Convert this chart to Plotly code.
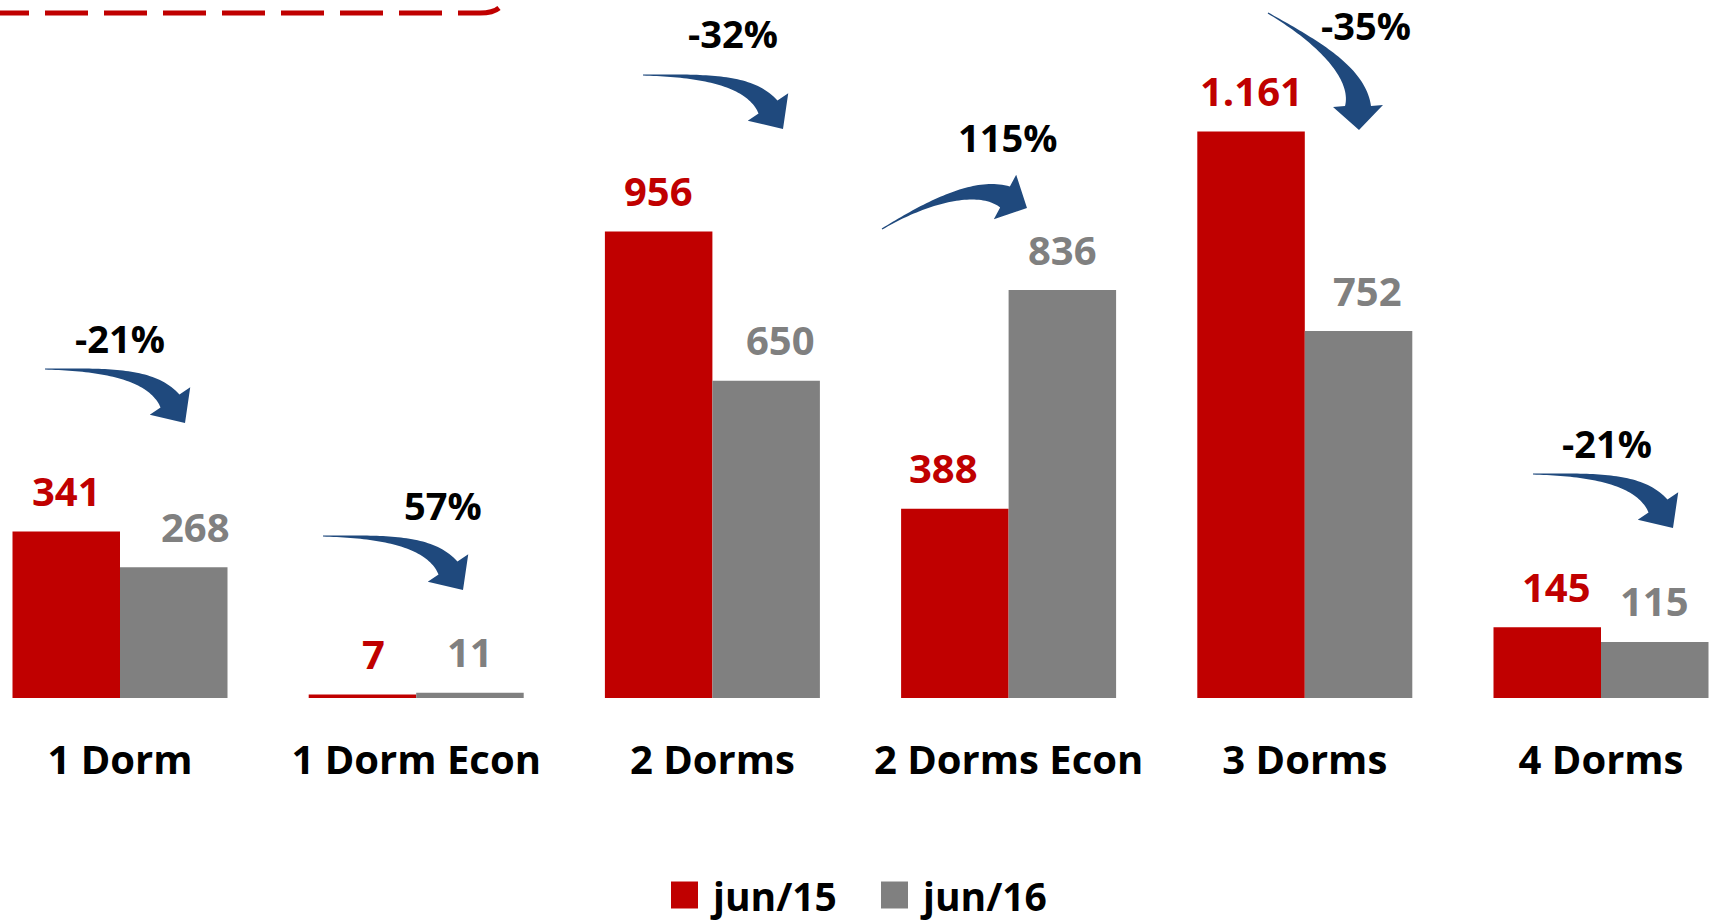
import numpy as np
import plotly.graph_objects as go

# ---------------- data ----------------
categories = ["1 Dorm", "1 Dorm Econ", "2 Dorms", "2 Dorms Econ", "3 Dorms", "4 Dorms"]
jun15 = [341, 7, 956, 388, 1161, 145]
jun16 = [268, 11, 650, 836, 752, 115]
series_names = ["jun/15", "jun/16"]

# ---------------- layout constants ----------------
FIG_W, FIG_H = 1710, 922
BASE_PX = 698          # pixel row of the bar baseline
CAT0_PX = 120          # pixel column of first category centre
CAT_STEP_PX = 296.2    # pixels between category centres
BAR_PX = 107.5         # bar width in pixels
PX_PER_UNIT = 0.488    # vertical pixels per value unit

RED = "#C00000"
GREY = "#808080"
BLUE = "#1F497D"
FONT = "Open Sans"

BW = BAR_PX / CAT_STEP_PX
x_range = [(0 - CAT0_PX) / CAT_STEP_PX, (FIG_W - CAT0_PX) / CAT_STEP_PX]
y_range = [0, BASE_PX / PX_PER_UNIT]


def px(xp):
    return xp / FIG_W


def py(yp):
    return (BASE_PX - yp) / BASE_PX


def fmt(v):
    return f"{v:,}".replace(",", ".")


xs = list(range(len(categories)))

fig = go.Figure()
fig.add_trace(go.Bar(x=xs, y=jun15, name=series_names[0], width=BW, offset=-BW,
                     marker=dict(color=RED, line=dict(width=0)), showlegend=False,
                     hovertemplate="%{y}<extra>jun/15</extra>"))
fig.add_trace(go.Bar(x=xs, y=jun16, name=series_names[1], width=BW, offset=0,
                     marker=dict(color=GREY, line=dict(width=0)), showlegend=False,
                     hovertemplate="%{y}<extra>jun/16</extra>"))

annotations = []
shapes = []

# value labels (pixel nudges reproduce the hand placement of the original)
nudge15 = [0, 11, 0, -11, 0, 9]
nudge16 = [22, 0, 14, 0, 9, 0]
LABEL_RISE = 41
for i, (a, b) in enumerate(zip(jun15, jun16)):
    annotations.append(dict(x=i - BW / 2, y=a, xref="x", yref="y", text=fmt(a),
                            showarrow=False, xanchor="center", yanchor="middle",
                            yshift=LABEL_RISE, xshift=nudge15[i],
                            font=dict(family=FONT, size=40, color=RED, weight="bold")))
    annotations.append(dict(x=i + BW / 2, y=b, xref="x", yref="y", text=fmt(b),
                            showarrow=False, xanchor="center", yanchor="middle",
                            yshift=LABEL_RISE, xshift=nudge16[i],
                            font=dict(family=FONT, size=40, color=GREY, weight="bold")))

# percent-change labels
pct_pos = [(120, 338), (443, 505), (733, 33), (1008, 137), (1366, 25), (1607, 443)]
for (a, b), (cx, cy) in zip(zip(jun15, jun16), pct_pos):
    pct = round((b / a - 1) * 100)
    annotations.append(dict(x=px(cx), y=py(cy), xref="paper", yref="paper",
                            text=f"{pct}%", showarrow=False, xanchor="center",
                            yanchor="middle",
                            font=dict(family=FONT, size=38, color="black", weight="bold")))


# curved tapered arrows
def arrow_svg(p0, c1, c2, h, tip, body_w, head_w, tail_w=1.2, n=48):
    P0, C1, C2, Hh, T = (np.array(v, dtype=float) for v in (p0, c1, c2, h, tip))
    t = np.linspace(0, 1, n)[:, None]
    pts = (1 - t) ** 3 * P0 + 3 * (1 - t) ** 2 * t * C1 + 3 * (1 - t) * t ** 2 * C2 + t ** 3 * Hh
    der = 3 * (1 - t) ** 2 * (C1 - P0) + 6 * (1 - t) * t * (C2 - C1) + 3 * t ** 2 * (Hh - C2)
    tang = der / np.linalg.norm(der, axis=1)[:, None]
    nrm = np.column_stack([-tang[:, 1], tang[:, 0]])
    w = (tail_w + (body_w - tail_w) * t[:, 0] ** 1.6) / 2
    side_a = pts + nrm * w[:, None]
    side_b = pts - nrm * w[:, None]
    d = (T - Hh) / np.linalg.norm(T - Hh)
    nd = np.array([-d[1], d[0]])
    ca = Hh + nd * head_w / 2
    cb = Hh - nd * head_w / 2
    poly = list(side_a) + [ca, T, cb] + list(side_b[::-1])
    return "M " + " L ".join(f"{px(x):.5f},{py(y):.5f}" for x, y in poly) + " Z"


# template for the "down-right" arrows, relative to their tail
DOWN_TPL = dict(c1=(55, 1), c2=(105, 3), h=(125, 32), tip=(140, 54))
down_tails = [(45, 369), (323, 536), (643, 75), (1533, 474)]


def shift(p, o):
    return (p[0] + o[0], p[1] + o[1])


arrow_defs = []
for tl in down_tails:
    arrow_defs.append(dict(p0=tl, c1=shift(DOWN_TPL["c1"], tl), c2=shift(DOWN_TPL["c2"], tl),
                           h=shift(DOWN_TPL["h"], tl), tip=shift(DOWN_TPL["tip"], tl),
                           body_w=23, head_w=49))
arrow_defs.append(dict(p0=(882, 229), c1=(925, 203), c2=(975, 183), h=(1005, 197),
                       tip=(1027, 208), body_w=23, head_w=50))
arrow_defs.append(dict(p0=(1268, 13), c1=(1311, 38), c2=(1358, 70), h=(1358, 106),
                       tip=(1359, 130), body_w=26, head_w=50))

for ad in arrow_defs:
    shapes.append(dict(type="path", xref="paper", yref="paper", layer="above",
                       path=arrow_svg(**ad), fillcolor=BLUE, line=dict(width=0)))

# dashed red line at top-left (bottom edge of a cropped rounded box)
shapes.append(dict(type="path", xref="paper", yref="paper",
                   path=f"M {px(-14)},{py(13)} L {px(480)},{py(13)} Q {px(493)},{py(13)} {px(499)},{py(8)}",
                   line=dict(color=RED, width=5, dash="43px,16px"),
                   fillcolor="rgba(0,0,0,0)"))

# legend (drawn manually to get large square keys)
LEG_Y = 895
legend_items = [(series_names[0], RED, 671), (series_names[1], GREY, 881)]
for name, col, lx in legend_items:
    shapes.append(dict(type="rect", xref="paper", yref="paper",
                       x0=px(lx), x1=px(lx + 27), y0=py(LEG_Y - 13.5), y1=py(LEG_Y + 13.5),
                       fillcolor=col, line=dict(width=0)))
    annotations.append(dict(x=px(lx + 37), y=py(LEG_Y), xref="paper", yref="paper",
                            text=name, showarrow=False, xanchor="left", yanchor="middle",
                            font=dict(family=FONT, size=39, color="black", weight="bold")))

fig.update_layout(
    width=FIG_W, height=FIG_H,
    margin=dict(l=0, r=0, t=0, b=FIG_H - BASE_PX, pad=0),
    paper_bgcolor="white", plot_bgcolor="white",
    barmode="overlay", showlegend=False,
    xaxis=dict(range=x_range, tickvals=xs, ticktext=categories, showgrid=False,
               zeroline=False, showline=False, ticks="", ticklabelstandoff=35,
               tickfont=dict(family=FONT, size=40, color="black", weight="bold"),
               fixedrange=True),
    yaxis=dict(range=y_range, visible=False, showgrid=False, zeroline=False, fixedrange=True),
    annotations=annotations,
    shapes=shapes,
)

fig.write_html("out.html", config={"displayModeBar": False},
               post_script="document.body.style.margin='0';document.body.style.overflow='hidden';")
